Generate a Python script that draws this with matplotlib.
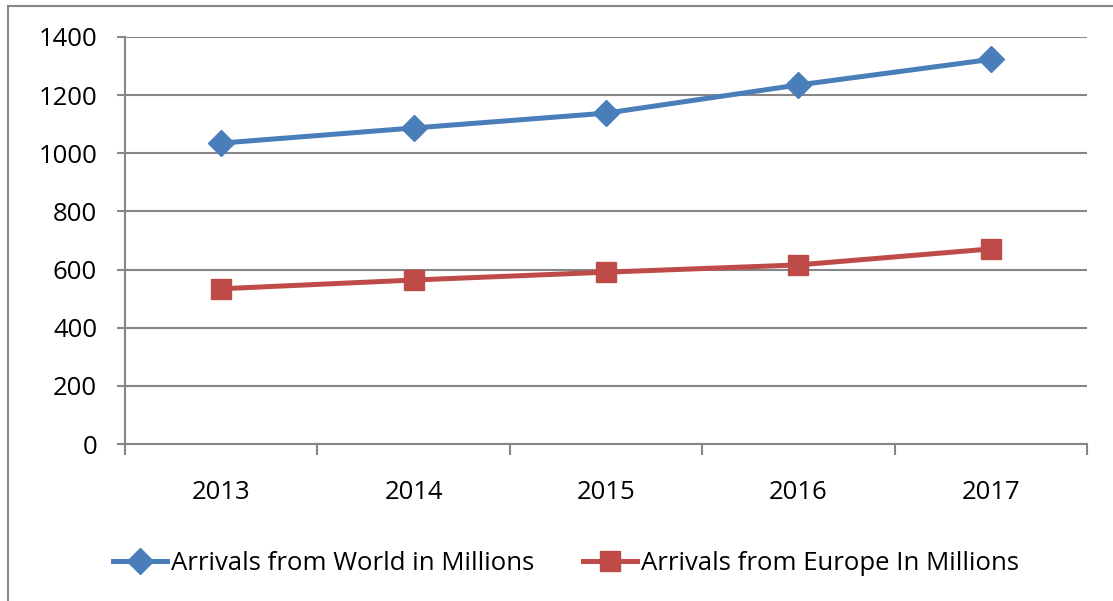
import matplotlib
matplotlib.use("Agg")
import matplotlib.pyplot as plt
from matplotlib.patches import Rectangle

years = ["2013", "2014", "2015", "2016", "2017"]
world = [1035, 1087, 1138, 1235, 1323]
europe = [534, 564, 591, 616, 671]
yticks = [0, 200, 400, 600, 800, 1000, 1200, 1400]

plt.rcParams['font.family'] = ['Open Sans', 'DejaVu Sans']

W, H = 1113, 601
fig = plt.figure(figsize=(W / 100, H / 100), dpi=100)
fig.patches.append(Rectangle((8 / W, -0.1), 1.2, (601 - 6) / H + 0.1, transform=fig.transFigure,
                             fill=False, edgecolor='#868686', linewidth=1.5))

ax = fig.add_axes([125 / W, (601 - 444) / H, (1087 - 125) / W, (444 - 37) / H])
x = list(range(len(years)))
gray = '#868686'
blue = '#4A7EBB'
red = '#BE4B48'

ax.plot(x, world, color=blue, lw=3.6, marker='D', markersize=13, label='Arrivals from World in Millions', zorder=3)
ax.plot(x, europe, color=red, lw=3.6, marker='s', markersize=14, label='Arrivals from Europe In Millions', zorder=3)

fs = 18.5
ax.set_xlim(-0.5, len(years) - 0.5)
ax.set_ylim(0, 1400)
ax.set_yticks(yticks)
ax.set_yticklabels([str(v) for v in yticks], fontsize=fs)
ax.set_xticks(x)
ax.set_xticklabels(years, fontsize=fs)
ax.tick_params(axis='x', length=0, pad=26)
ax.tick_params(axis='y', length=6, width=1.5, color=gray, pad=14)
ax.set_xticks([i - 0.5 for i in range(len(years) + 1)], minor=True)
ax.tick_params(axis='x', which='minor', length=8, width=1.5, color=gray)
ax.grid(axis='y', color=gray, linewidth=1.5)
ax.set_axisbelow(True)
for s in ['top', 'right']:
    ax.spines[s].set_visible(False)
ax.spines['left'].set_color(gray)
ax.spines['left'].set_linewidth(1.5)
ax.spines['bottom'].set_color(gray)
ax.spines['bottom'].set_linewidth(1.5)

fig.legend(loc='center', bbox_to_anchor=(566 / W, 1 - 563 / H), ncol=2, frameon=False,
           fontsize=fs, handlelength=2.1, handletextpad=0.15, columnspacing=1.9)

fig.savefig('out.png', dpi=100)
